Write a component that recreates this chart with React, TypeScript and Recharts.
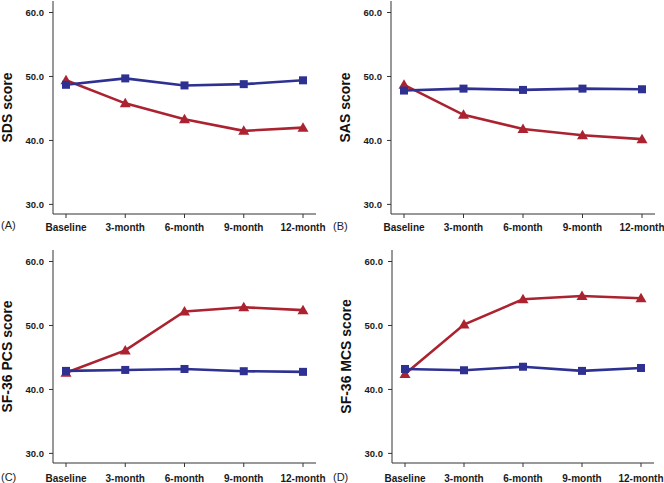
import React from 'react';
import { LineChart, Line, XAxis, YAxis } from 'recharts';

const timepoints = ['Baseline', '3-month', '6-month', '9-month', '12-month'];
const yTicks = [30, 40, 50, 60];

// blue = control (squares), red = intervention (triangles)
const sdsControl = [48.7, 49.7, 48.6, 48.8, 49.4];
const sdsTreated = [49.4, 45.8, 43.3, 41.5, 42.0];
const sasControl = [47.8, 48.1, 47.9, 48.1, 48.0];
const sasTreated = [48.7, 44.0, 41.8, 40.8, 40.2];
const pcsControl = [42.9, 43.05, 43.2, 42.85, 42.75];
const pcsTreated = [42.6, 46.1, 52.2, 52.85, 52.4];
const mcsControl = [43.2, 43.0, 43.55, 42.9, 43.35];
const mcsTreated = [42.4, 50.15, 54.1, 54.6, 54.25];

const BLUE = '#2e3192';
const RED = '#ab2330';
const AXIS = '#333';
const FONT = '"Liberation Sans", Arial, sans-serif';

const build = (control: number[], treated: number[]) =>
  timepoints.map((t, i) => ({ name: t, control: control[i], treated: treated[i] }));

const Square = (props: any) => {
  const { cx, cy } = props;
  if (cx == null || cy == null) return null;
  return <rect x={cx - 4} y={cy - 4} width={8} height={8} fill={BLUE} />;
};

const Triangle = (props: any) => {
  const { cx, cy } = props;
  if (cx == null || cy == null) return null;
  return <polygon points={`${cx},${cy - 5.5} ${cx + 5.5},${cy + 4} ${cx - 5.5},${cy + 4}`} fill={RED} />;
};

type PanelProps = {
  left: number;
  top: number;
  height: number;
  marginTop: number;
  xHeight: number;
  yWidth: number;
  right: number;
  labelOffset: number;
  tickMargin: number;
  title: string;
  letter: string;
  letterTop: number;
  control: number[];
  treated: number[];
};

const Panel: React.FC<PanelProps> = p => {
  const data = build(p.control, p.treated);
  return (
    <>
      <div style={{ position: 'absolute', left: p.left, top: p.top }}>
        <LineChart
          width={332}
          height={p.height}
          data={data}
          margin={{ top: p.marginTop, right: p.right, bottom: 0, left: 0 }}
        >
          <XAxis
            dataKey="name"
            height={p.xHeight}
            padding={{ left: 13, right: 13 }}
            axisLine={{ stroke: AXIS }}
            tickLine={{ stroke: AXIS }}
            tickSize={4}
            tickMargin={p.tickMargin}
            interval={0}
            tick={{ fontSize: 10, fontWeight: 'bold', fill: '#1a1a1a', fontFamily: FONT }}
          />
          <YAxis
            width={p.yWidth}
            domain={[28.5, 61.8]}
            ticks={yTicks}
            tickFormatter={(v: number) => v.toFixed(1)}
            axisLine={{ stroke: AXIS }}
            tickLine={{ stroke: AXIS }}
            tickSize={4}
            tickMargin={5}
            tick={{ fontSize: 9.5, fontWeight: 'bold', fill: '#1a1a1a', fontFamily: FONT }}
            label={{
              value: p.title,
              angle: -90,
              position: 'insideLeft',
              offset: p.labelOffset,
              textAnchor: 'middle',
              style: { fontSize: 14, fontWeight: 'bold', fill: '#111', fontFamily: FONT, textAnchor: 'middle' },
            }}
          />
          <Line
            dataKey="treated"
            stroke={RED}
            strokeWidth={2.6}
            dot={<Triangle />}
            activeDot={false}
            isAnimationActive={false}
          />
          <Line
            dataKey="control"
            stroke={BLUE}
            strokeWidth={2.6}
            dot={<Square />}
            activeDot={false}
            isAnimationActive={false}
          />
        </LineChart>
      </div>
      <div
        style={{
          position: 'absolute',
          left: p.left + 1,
          top: p.letterTop,
          fontSize: 11,
          fontFamily: FONT,
          color: '#222',
          lineHeight: '12px',
        }}
      >
        {p.letter}
      </div>
    </>
  );
};

export default function App() {
  return (
    <div
      style={{
        position: 'fixed',
        left: 0,
        top: 0,
        width: 664,
        height: 483,
        overflow: 'hidden',
        background: '#fff',
      }}
    >
      <Panel left={0} top={0} height={242} marginTop={1} xHeight={28} yWidth={53} right={16}
        labelOffset={7} tickMargin={6} title="SDS score" letter="(A)" letterTop={219}
        control={sdsControl} treated={sdsTreated} />
      <Panel left={332} top={0} height={242} marginTop={1} xHeight={28} yWidth={59} right={9}
        labelOffset={13} tickMargin={6} title="SAS score" letter="(B)" letterTop={220}
        control={sasControl} treated={sasTreated} />
      <Panel left={0} top={242} height={250} marginTop={8} xHeight={29} yWidth={53} right={16}
        labelOffset={7} tickMargin={8} title="SF-36 PCS score" letter="(C)" letterTop={471}
        control={pcsControl} treated={pcsTreated} />
      <Panel left={332} top={242} height={250} marginTop={8} xHeight={29} yWidth={60} right={10}
        labelOffset={14} tickMargin={8} title="SF-36 MCS score" letter="(D)" letterTop={471}
        control={mcsControl} treated={mcsTreated} />
    </div>
  );
}
